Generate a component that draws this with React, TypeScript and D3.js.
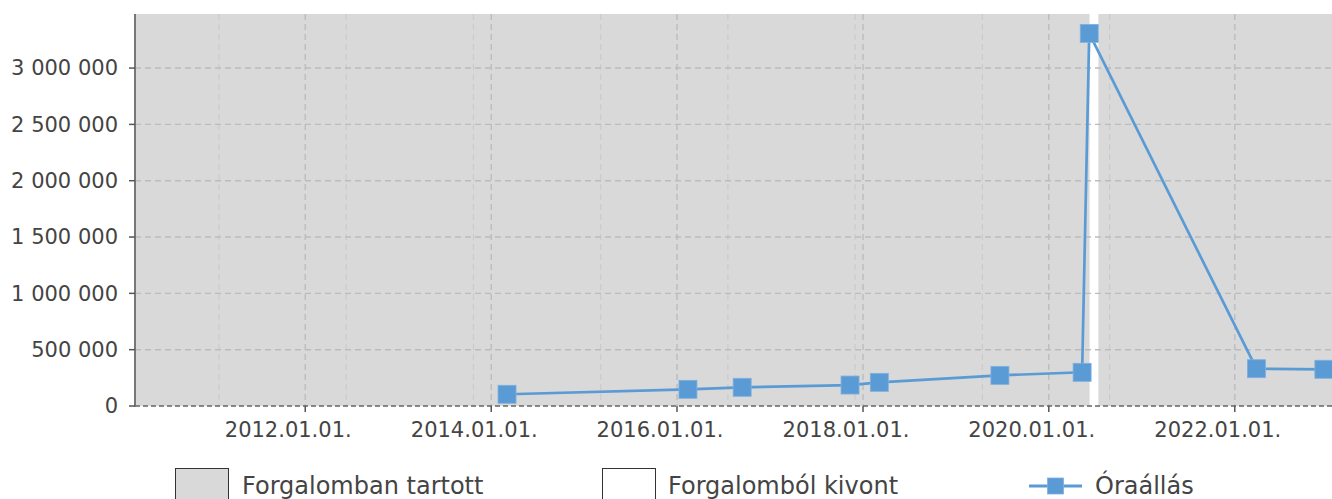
import React from "react";
import * as d3 from "d3";

// meter readings (date, value)
const readingDates = ["2014-03-04", "2016-02-13", "2016-09-13", "2017-11-11", "2018-03-06", "2019-06-23", "2020-05-11", "2020-06-08", "2022-03-27", "2022-12-17"];
const readingValues = [104000, 148000, 166000, 186000, 210000, 272000, 299000, 3308000, 331000, 326000];

// circulation status periods
const periodStarts = ["2010-03-03", "2020-06-10", "2020-07-14"];
const periodEnds = ["2020-06-10", "2020-07-14", "2023-01-18"];
const periodInUse = [true, false, true];

const xTickDates = ["2012-01-01", "2014-01-01", "2016-01-01", "2018-01-01", "2020-01-01", "2022-01-01"];
const minorGridDates = ["2011-01-27", "2012-06-10", "2013-10-23", "2015-03-07", "2016-07-19", "2017-12-01", "2019-04-15", "2020-08-27"];
const yTicks = [0, 500000, 1000000, 1500000, 2000000, 2500000, 3000000];

const legendLabels = ["Forgalomban tartott", "Forgalomból kivont", "Óraállás"];

const WIDTH = 1332, HEIGHT = 499;
const MARGIN = { left: 135, top: 14, right: 0, bottom: 93 };
const FONT = "DejaVu Sans";
const TEXT = "#444";
const BLUE = "#5b9bd5";
const GRAY_BG = "#d9d9d9";

const parse = d3.timeParse("%Y-%m-%d");

export default function App() {
	const x = d3.scaleTime()
		.domain([parse("2010-03-03")!, parse("2023-01-18")!])
		.range([MARGIN.left, WIDTH - MARGIN.right]);
	const y = d3.scaleLinear()
		.domain([0, 3480000])
		.range([HEIGHT - MARGIN.bottom, MARGIN.top]);

	const fmtY = (v: number) => d3.format(",")(v).replace(/,/g, " ");
	const fmtX = d3.timeFormat("%Y.%m.%d.");

	const points = readingDates.map((d, i) => ({ date: parse(d)!, value: readingValues[i] }));
	const line = d3.line<{ date: Date; value: number }>()
		.x(d => x(d.date))
		.y(d => y(d.value));

	const y0 = y(0), yTop = y.range()[1];
	const x0 = x.range()[0], x1 = x.range()[1];
	const sq = 18;

	return (
		<div style={{ position: "absolute", left: 0, top: 0 }}>
			<svg width={WIDTH} height={HEIGHT} style={{ display: "block" }} fontFamily={FONT}>
				{/* status backgrounds */}
				{periodStarts.map((s, i) => (
					<rect key={"p" + i} x={x(parse(s)!)} y={yTop}
						width={x(parse(periodEnds[i])!) - x(parse(s)!)} height={y0 - yTop}
						fill={periodInUse[i] ? GRAY_BG : "#fff"} />
				))}

				{/* minor vertical grid */}
				{minorGridDates.map(d => (
					<line key={"m" + d} x1={x(parse(d)!)} x2={x(parse(d)!)} y1={yTop} y2={y0}
						stroke="#cbcbcb" strokeWidth={1.2} strokeDasharray="6,4" />
				))}
				{/* major vertical grid */}
				{xTickDates.map(d => (
					<line key={"v" + d} x1={x(parse(d)!)} x2={x(parse(d)!)} y1={yTop} y2={y0}
						stroke="#bcbcbc" strokeWidth={1.4} strokeDasharray="6,4" />
				))}
				{/* horizontal grid */}
				{yTicks.filter(t => t > 0).map(t => (
					<line key={"h" + t} x1={x0} x2={x1} y1={y(t)} y2={y(t)}
						stroke="#bcbcbc" strokeWidth={1.4} strokeDasharray="6,4" />
				))}

				{/* baseline */}
				<line x1={x0} x2={x1} y1={y0} y2={y0} stroke="#666" strokeWidth={1.5} strokeDasharray="5,3" />
				{/* left spine */}
				<line x1={x0} x2={x0} y1={yTop} y2={y0 + 1} stroke="#777" strokeWidth={2} />

				{/* y ticks */}
				{yTicks.map(t => (
					<g key={"yt" + t}>
						<line x1={x0 - 6} x2={x0} y1={y(t)} y2={y(t)} stroke="#555" strokeWidth={1.5} />
						<text x={118} y={y(t)} dy="0.35em" textAnchor="end" fontSize={21} fill={TEXT}>{fmtY(t)}</text>
					</g>
				))}
				{/* x ticks */}
				{xTickDates.map(d => (
					<g key={"xt" + d}>
						<line x1={x(parse(d)!)} x2={x(parse(d)!)} y1={y0} y2={y0 + 6} stroke="#555" strokeWidth={1.5} />
						<text x={x(parse(d)!) - 17} y={y0 + 31} textAnchor="middle" fontSize={21} fill={TEXT}>{fmtX(parse(d)!)}</text>
					</g>
				))}

				{/* series */}
				<path d={line(points) || ""} fill="none" stroke={BLUE} strokeWidth={2.7} />
				{points.map((p, i) => (
					<rect key={"pt" + i} x={x(p.date) - sq / 2} y={y(p.value) - sq / 2} width={sq} height={sq}
						fill={BLUE} stroke="#7fb0de" strokeWidth={0.8} />
				))}

				{/* legend */}
				<rect x={175.5} y={468.5} width={53} height={40} fill={GRAY_BG} stroke="#333" strokeWidth={1} />
				<text x={242} y={494} fontSize={24} fill={TEXT}>{legendLabels[0]}</text>
				<rect x={602.5} y={468.5} width={53} height={40} fill="#fff" stroke="#333" strokeWidth={1} />
				<text x={668} y={494} fontSize={24} fill={TEXT}>{legendLabels[1]}</text>
				<line x1={1029} x2={1082} y1={486} y2={486} stroke={BLUE} strokeWidth={3} />
				<rect x={1055.5 - 8} y={486 - 8} width={16} height={16} fill={BLUE} stroke="#7fb0de" strokeWidth={0.8} />
				<text x={1095} y={494} fontSize={24} fill={TEXT}>{legendLabels[2]}</text>
			</svg>
		</div>
	);
}
